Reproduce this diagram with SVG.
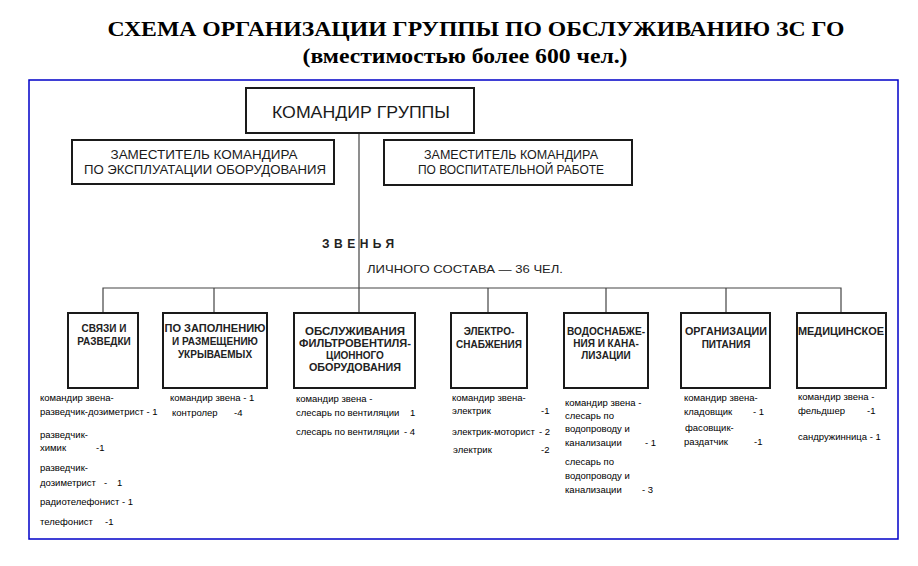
<svg xmlns="http://www.w3.org/2000/svg" width="918" height="566" viewBox="0 0 918 566">
<style>
.title{font-family:"Liberation Serif","Times New Roman",serif;font-weight:bold;fill:#000;text-anchor:middle}
.box{fill:#fff;stroke:#1a1a1a;stroke-width:2}
.bt{font-family:"Liberation Sans",Arial,sans-serif;font-weight:bold;font-size:10px;fill:#222;text-anchor:middle}
.dt{font-family:"Liberation Sans",Arial,sans-serif;font-size:12px;fill:#1a1a1a;text-anchor:middle}
.lt{font-family:"Liberation Sans",Arial,sans-serif;font-size:9.5px;fill:#000}
.ln{fill:none;stroke:#444;stroke-width:1.2}
</style>
<rect x="0" y="0" width="918" height="566" fill="#fff"/>
<text class="title" x="476" y="36" font-size="22" textLength="737" lengthAdjust="spacingAndGlyphs">СХЕМА ОРГАНИЗАЦИИ ГРУППЫ ПО ОБСЛУЖИВАНИЮ ЗС ГО</text>
<text class="title" x="465" y="63" font-size="20" textLength="325" lengthAdjust="spacingAndGlyphs">(вместимостью более 600 чел.)</text>
<rect x="29" y="80" width="869" height="459" fill="none" stroke="#0000c8" stroke-width="1.5"/>
<g id="connectors">
<path class="ln" d="M359 133 V313"/>
<path class="ln" d="M103 313 V288 H841 V313"/>
<path class="ln" d="M214 288 V313 M488 288 V313 M606 288 V313 M726 288 V313"/>
</g>
<g id="commander">
<rect class="box" x="246" y="88" width="228" height="45"/>
<text x="361" y="118" font-family="Liberation Sans,Arial,sans-serif" font-size="16" fill="#1a1a1a" text-anchor="middle" textLength="178" lengthAdjust="spacingAndGlyphs">КОМАНДИР ГРУППЫ</text>
</g>
<g id="deputy1">
<rect class="box" x="72" y="140" width="262" height="44"/>
<text class="dt" x="204" y="159" textLength="187" lengthAdjust="spacingAndGlyphs">ЗАМЕСТИТЕЛЬ КОМАНДИРА</text>
<text class="dt" x="205" y="174" textLength="242" lengthAdjust="spacingAndGlyphs">ПО ЭКСПЛУАТАЦИИ ОБОРУДОВАНИЯ</text>
</g>
<g id="deputy2">
<rect class="box" x="384" y="140" width="248" height="45"/>
<text class="dt" x="511" y="159" textLength="174" lengthAdjust="spacingAndGlyphs">ЗАМЕСТИТЕЛЬ КОМАНДИРА</text>
<text class="dt" x="511" y="174" textLength="186" lengthAdjust="spacingAndGlyphs">ПО ВОСПИТАТЕЛЬНОЙ РАБОТЕ</text>
</g>
<g id="zvenya">
<text x="322" y="248" font-family="Liberation Sans,Arial,sans-serif" font-weight="bold" font-size="12" fill="#222" letter-spacing="4.5">ЗВЕНЬЯ</text>
<text x="367" y="273" font-family="Liberation Sans,Arial,sans-serif" font-size="11" fill="#222" textLength="196" lengthAdjust="spacingAndGlyphs">ЛИЧНОГО СОСТАВА — 36 ЧЕЛ.</text>
</g>
<g id="z1">
<rect class="box" x="68" y="313" width="70" height="75"/>
<text class="bt" x="104" y="332">СВЯЗИ И</text>
<text class="bt" x="104" y="345">РАЗВЕДКИ</text>
</g>
<g id="z2">
<rect class="box" x="163" y="313" width="104" height="75"/>
<text class="bt" x="215" y="332" textLength="101" lengthAdjust="spacingAndGlyphs">ПО ЗАПОЛНЕНИЮ</text>
<text class="bt" x="215" y="345">И РАЗМЕЩЕНИЮ</text>
<text class="bt" x="215" y="358">УКРЫВАЕМЫХ</text>
</g>
<g id="z3">
<rect class="box" x="294" y="313" width="121" height="75"/>
<text class="bt" x="355" y="335" textLength="100" lengthAdjust="spacingAndGlyphs">ОБСЛУЖИВАНИЯ</text>
<text class="bt" x="355" y="347" textLength="112" lengthAdjust="spacingAndGlyphs">ФИЛЬТРОВЕНТИЛЯ-</text>
<text class="bt" x="355" y="359">ЦИОННОГО</text>
<text class="bt" x="355" y="371" textLength="92" lengthAdjust="spacingAndGlyphs">ОБОРУДОВАНИЯ</text>
</g>
<g id="z4">
<rect class="box" x="451" y="313" width="76" height="75"/>
<text class="bt" x="489" y="335">ЭЛЕКТРО-</text>
<text class="bt" x="489" y="348">СНАБЖЕНИЯ</text>
</g>
<g id="z5">
<rect class="box" x="564" y="313" width="84" height="75"/>
<text class="bt" x="606" y="335" textLength="78" lengthAdjust="spacingAndGlyphs">ВОДОСНАБЖЕ-</text>
<text class="bt" x="606" y="347">НИЯ И КАНА-</text>
<text class="bt" x="606" y="359">ЛИЗАЦИИ</text>
</g>
<g id="z6">
<rect class="box" x="681" y="313" width="89" height="75"/>
<text class="bt" x="726" y="335" textLength="82" lengthAdjust="spacingAndGlyphs">ОРГАНИЗАЦИИ</text>
<text class="bt" x="726" y="348">ПИТАНИЯ</text>
</g>
<g id="z7">
<rect class="box" x="797" y="313" width="89" height="75"/>
<text class="bt" x="841" y="335" textLength="86" lengthAdjust="spacingAndGlyphs">МЕДИЦИНСКОЕ</text>
</g>
<g id="list1">
<text class="lt" x="40" y="401">командир звена-</text>
<text class="lt" x="40" y="415">разведчик-дозиметрист - 1</text>
<text class="lt" x="40" y="438">разведчик-</text>
<text class="lt" x="40" y="451">химик</text><text class="lt" x="96" y="451">-1</text>
<text class="lt" x="40" y="471">разведчик-</text>
<text class="lt" x="40" y="486">дозиметрист</text><text class="lt" x="104" y="486">-</text><text class="lt" x="117" y="486">1</text>
<text class="lt" x="40" y="505">радиотелефонист - 1</text>
<text class="lt" x="40" y="525">телефонист</text><text class="lt" x="105" y="525">-1</text>
</g>
<g id="list2">
<text class="lt" x="170" y="401">командир звена - 1</text>
<text class="lt" x="172" y="416">контролер</text><text class="lt" x="234" y="416">-4</text>
</g>
<g id="list3">
<text class="lt" x="296" y="402">командир звена -</text>
<text class="lt" x="296" y="416">слесарь по вентиляции</text><text class="lt" x="410" y="416">1</text>
<text class="lt" x="296" y="435">слесарь по вентиляции</text><text class="lt" x="404" y="435">- 4</text>
</g>
<g id="list4">
<text class="lt" x="452" y="401">командир звена-</text>
<text class="lt" x="452" y="414">электрик</text><text class="lt" x="541" y="414">-1</text>
<text class="lt" x="452" y="435">электрик-моторист</text><text class="lt" x="539" y="435">- 2</text>
<text class="lt" x="453" y="453">электрик</text><text class="lt" x="541" y="453">-2</text>
</g>
<g id="list5">
<text class="lt" x="565" y="406">командир звена -</text>
<text class="lt" x="565" y="419">слесарь по</text>
<text class="lt" x="565" y="432">водопроводу и</text>
<text class="lt" x="565" y="446">канализации</text><text class="lt" x="645" y="446">- 1</text>
<text class="lt" x="565" y="465">слесарь по</text>
<text class="lt" x="565" y="479">водопроводу и</text>
<text class="lt" x="565" y="493">канализации</text><text class="lt" x="642" y="493">- 3</text>
</g>
<g id="list6">
<text class="lt" x="684" y="401">командир звена-</text>
<text class="lt" x="684" y="415">кладовщик</text><text class="lt" x="753" y="415">- 1</text>
<text class="lt" x="685" y="431">фасовщик-</text>
<text class="lt" x="684" y="445">раздатчик</text><text class="lt" x="754" y="445">-1</text>
</g>
<g id="list7">
<text class="lt" x="798" y="400">командир звена -</text>
<text class="lt" x="798" y="414">фельдшер</text><text class="lt" x="867" y="414">-1</text>
<text class="lt" x="798" y="440">сандружинница  - 1</text>
</g>
</svg>
